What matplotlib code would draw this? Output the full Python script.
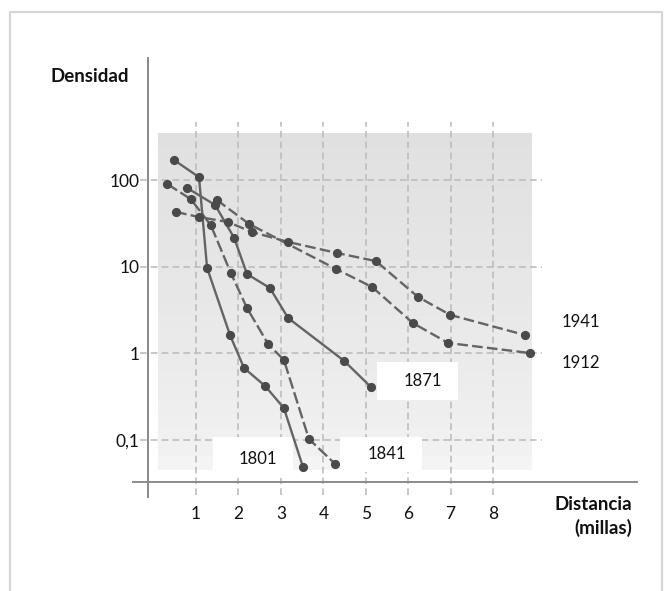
import matplotlib
matplotlib.use("Agg")
import matplotlib.pyplot as plt
from matplotlib.patches import Rectangle
import numpy as np

plt.rcParams['font.family'] = ['Lato', 'DejaVu Sans']

# ---- data ----
x_1801 = [0.48, 1.07, 1.26, 1.80, 2.13, 2.63, 3.07, 3.52]
y_1801 = [170, 108, 9.7, 1.63, 0.68, 0.42, 0.234, 0.049]

x_1841 = [0.32, 0.88, 1.35, 1.82, 2.20, 2.70, 3.07, 3.66, 4.28]
y_1841 = [90, 60, 30, 8.45, 3.34, 1.28, 0.84, 0.103, 0.053]

x_1871 = [0.79, 1.45, 1.90, 2.20, 2.74, 3.17, 4.49, 5.12]
y_1871 = [81, 51.5, 21.4, 8.24, 5.68, 2.56, 0.82, 0.41]

x_1912 = [1.49, 2.25, 4.30, 5.15, 6.11, 6.94, 8.87]
y_1912 = [58.8, 31.1, 9.41, 5.83, 2.24, 1.32, 1.01]

x_1941 = [0.53, 1.07, 1.75, 2.32, 3.17, 4.32, 5.24, 6.23, 6.99, 8.75]
y_1941 = [42.8, 37.4, 32.8, 25.1, 19.3, 14.4, 11.6, 4.48, 2.78, 1.63]

x_ticks = [1, 2, 3, 4, 5, 6, 7, 8]
x_tick_labels = ['1', '2', '3', '4', '5', '6', '7', '8']
y_ticks = [100, 10, 1, 0.1]
y_tick_labels = ['100', '10', '1', '0,1']

series_labels = ['1801', '1841', '1871', '1912', '1941']

# ---- figure ----
W, H = 672, 591
fig = plt.figure(figsize=(W / 100, H / 100), dpi=100)
ax = fig.add_axes([148 / W, (H - 482) / H, (637 - 148) / W, (482 - 58) / H])
ax.set_yscale('log')
ax.set_xlim(-0.132, 11.39)
ax.set_ylim(0.0329, 2553)
for s in ax.spines.values():
    s.set_visible(False)

# outer light frame
fig.patches.append(Rectangle((10 / W, -0.05), (662 - 10) / W, 1.05 - 12 / H,
                             transform=fig.transFigure, fill=False,
                             ec='#d6d6d6', lw=1.6, zorder=0))

# scanned gray background (vertical gradient)
ytop, ybot = 348, 0.045
edges = np.logspace(np.log10(ybot), np.log10(ytop), 25)
for i in range(len(edges) - 1):
    t = i / (len(edges) - 2)
    g = 0.955 - 0.075 * t ** 0.7
    ax.fill_between([0.10, 8.92], edges[i], edges[i + 1], color=(g, g, g),
                    lw=0, zorder=0.5)

# grid
grid_kw = dict(color='#bdbdbd', lw=1.2, linestyle=(0, (4, 2.5)), clip_on=False, zorder=1)
for xv in x_ticks:
    ax.plot([xv, xv], [0.0233, 467], **grid_kw)
for yv in y_ticks:
    ax.plot([-0.32, 9.15], [yv, yv], **grid_kw)

# white label boxes
for (x0, x1, y0, y1) in [(1.40, 3.29, 0.0366, 0.109),
                         (4.39, 6.33, 0.0429, 0.109),
                         (5.27, 7.18, 0.29, 0.796)]:
    ax.add_patch(Rectangle((x0, y0), x1 - x0, y1 - y0, fc='white', ec='none',
                           zorder=2, clip_on=False))

# axis lines
ax.plot([0, 0], [-15 / 424, 1], transform=ax.transAxes, color='#8a8a8a',
        lw=1.4, clip_on=False, zorder=3)
ax.plot([-15 / 489, 1], [0, 0], transform=ax.transAxes, color='#8a8a8a',
        lw=1.4, clip_on=False, zorder=3)

# series
line_c = '#646464'
mk_c = '#4a4a4a'
styles = {
    '1801': '-',
    '1841': (0, (5, 1.6)),
    '1871': '-',
    '1912': (0, (4.5, 1.8)),
    '1941': (0, (4.5, 1.8)),
}
data = {'1801': (x_1801, y_1801), '1841': (x_1841, y_1841),
        '1871': (x_1871, y_1871), '1912': (x_1912, y_1912),
        '1941': (x_1941, y_1941)}
for lab in series_labels:
    xs, ys = data[lab]
    ax.plot(xs, ys, linestyle=styles[lab], color=line_c, lw=1.7,
            marker='o', ms=5.6, mfc=mk_c, mec=mk_c, zorder=4, clip_on=False)

# ticks
ax.set_xticks(x_ticks)
ax.set_xticklabels(x_tick_labels)
ax.set_yticks(y_ticks)
ax.set_yticklabels(y_tick_labels)
ax.minorticks_off()
ax.tick_params(axis='x', length=0, pad=17, labelsize=12.5, colors='#111111')
ax.tick_params(axis='y', length=0, pad=6, labelsize=12.5, colors='#111111')

# labels
fig.text(90 / W, 1 - 76 / H, 'Densidad', ha='center', va='center',
         fontsize=13.5, fontweight='bold', color='#111111')
fig.text(632 / W, 1 - 505 / H, 'Distancia', ha='right', va='center',
         fontsize=13.5, fontweight='bold', color='#111111')
fig.text(632 / W, 1 - 528 / H, '(millas)', ha='right', va='center',
         fontsize=13.5, fontweight='bold', color='#111111')

# year labels
for lab, (px, py) in zip(series_labels, [(258, 459), (387, 454), (423, 381),
                                          (581, 363), (581, 322)]):
    fig.text(px / W, 1 - py / H, lab, ha='center', va='center',
             fontsize=12, color='#111111')

fig.savefig('out.png', dpi=100)
